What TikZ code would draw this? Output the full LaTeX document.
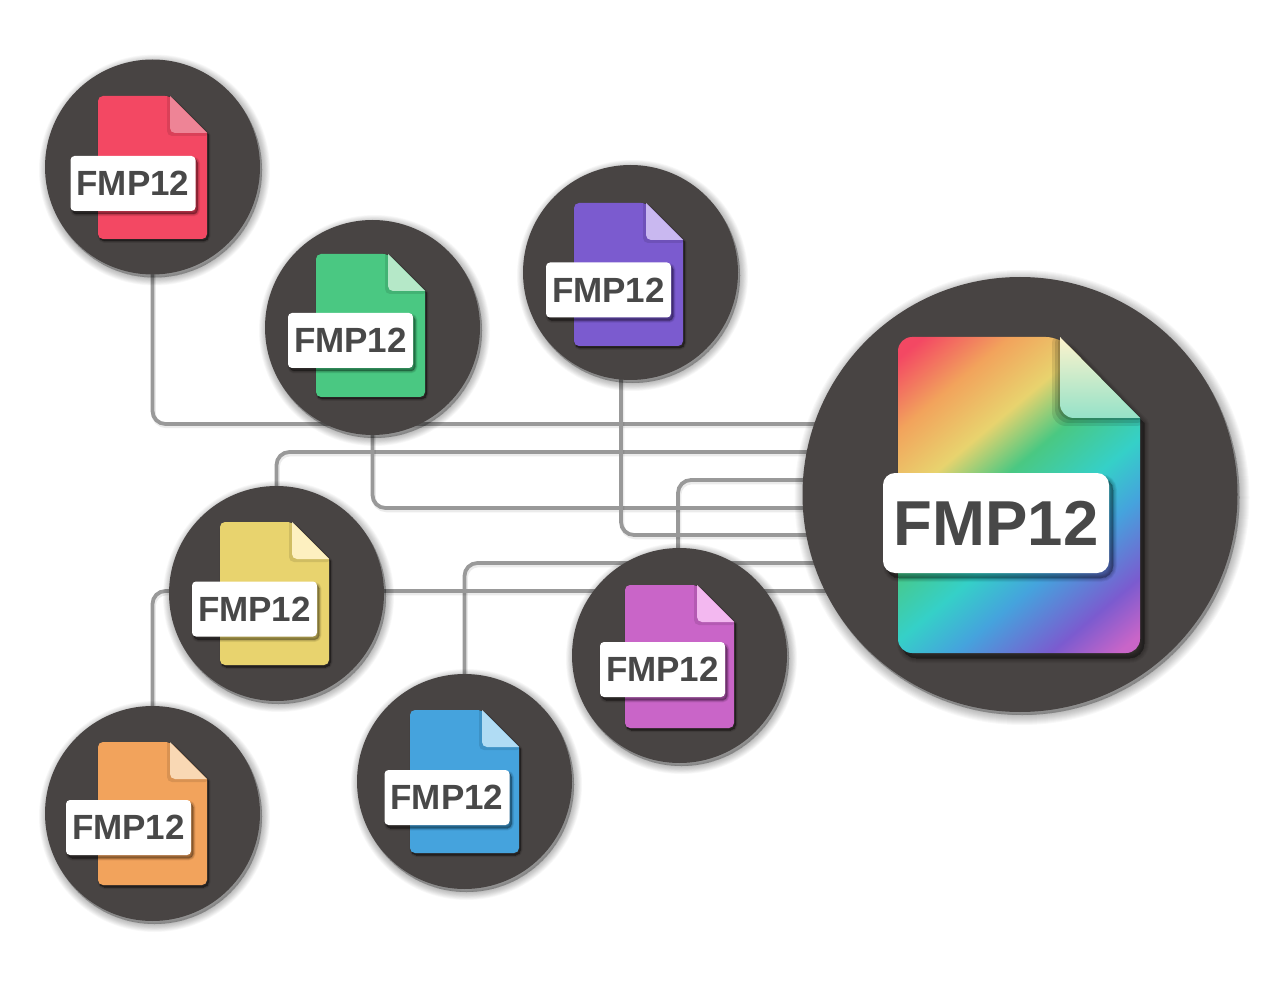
\documentclass[tikz,border=0pt]{standalone}
\usepackage{fontspec}
\setmainfont{Liberation Sans}
\pgfdeclarelayer{lines}
\pgfsetlayers{lines,main}
\definecolor{disc}{HTML}{484443}
\definecolor{wirec}{HTML}{999999}
\definecolor{labeltext}{HTML}{484848}
\definecolor{cred}{HTML}{F34863}\definecolor{fred}{HTML}{EE8496}
\definecolor{cgreen}{HTML}{4AC882}\definecolor{fgreen}{HTML}{B5E8C8}
\definecolor{cpurple}{HTML}{7B5BCF}\definecolor{fpurple}{HTML}{C9B8F0}
\definecolor{cyellow}{HTML}{E8D36E}\definecolor{fyellow}{HTML}{FDF0C0}
\definecolor{cpink}{HTML}{C965C8}\definecolor{fpink}{HTML}{F3B8F0}
\definecolor{cblue}{HTML}{45A3DD}\definecolor{fblue}{HTML}{B0DCF4}
\definecolor{corange}{HTML}{F2A35C}\definecolor{forange}{HTML}{F9D8B4}
\definecolor{cteal}{HTML}{35D0C8}
\pgfdeclarehorizontalshading{rainbowfile}{100bp}{
 color(0bp)=(cred);
 color(27bp)=(cred);
 color(34bp)=(corange);
 color(41bp)=(cyellow);
 color(47bp)=(cgreen);
 color(54.3bp)=(cteal);
 color(60bp)=(cblue);
 color(67.8bp)=(cpurple);
 color(73.3bp)=(cpink);
 color(100bp)=(cpink)}
\tikzset{
 x=1pt,y=-1pt,
 disc node/.style={circle,fill=disc,inner sep=0pt,minimum size=#1},
 label small/.style={rectangle,rounded corners=4pt,fill=white,inner sep=0pt,minimum width=125pt,minimum height=55pt,text=labeltext,font=\fontsize{35}{36}\selectfont\bfseries},
 label big/.style={rectangle,rounded corners=12pt,fill=white,inner sep=0pt,minimum width=226pt,minimum height=100pt,text=labeltext,font=\fontsize{63.5}{66}\selectfont\bfseries},
 wire/.style={draw=wirec,line width=3.8pt,rounded corners=13pt},
 wireshade/.style={draw=black,opacity=.08,line width=4.5pt,rounded corners=13pt,transform canvas={xshift=1pt,yshift=-2pt}},
}
% soft shadow of a closed path
\newcommand{\softshadow}[4]{% dx, dy, max width, path
 \begin{scope}[shift={(#1,#2)}]
 \foreach \w in {1,.9,.8,.7,.6,.5,.4,.3,.2,.1,0}{\pgfmathsetmacro\lw{\w*#3}
  \path[fill=black,draw=black,opacity=.028,line width=\lw pt,line join=round] #4;}
 \end{scope}}
% name, cx, cy, fx, fy, lx, ly, body colour, fold colour
\newcommand{\smallfile}[9]{
 \softshadow{2}{3}{16}{(#2,#3) circle[radius=107.5]}
 \node[disc node=215pt] (#1) at (#2,#3) {};
 \begin{scope}[shift={(#4,#5)}]
  \softshadow{1.5}{2}{4}{[rounded corners=5pt] (0,0) -- (72,0) [sharp corners] -- (109,37) [rounded corners=5pt] -- (109,143) -- (0,143) -- cycle}
  \fill[#8,rounded corners=5pt] (0,0) -- (72,0) [sharp corners] -- (109,37) [rounded corners=5pt] -- (109,143) -- (0,143) -- cycle;
  \begin{scope}
   \clip (72,0) -- (109,37) -- (109,45) -- (60,45) -- (60,0) -- cycle;
   \fill[black,opacity=.10,rounded corners=5pt] (72,-4) -- (69,-4) -- (69,40) -- (112,40) -- cycle;
  \end{scope}
  \fill[#9,rounded corners=5pt] (72,0) -- (72,37) [sharp corners] -- (109,37) -- cycle;
 \end{scope}
 \softshadow{2}{3}{5}{[rounded corners=4pt] (#6-62.5,#7-27.5) rectangle (#6+62.5,#7+27.5)}
 \node[label small] (#1l) at (#6,#7) {FMP12};
}
\newcommand{\wirerun}[2]{
 \draw[wireshade] #1 |- (#2);
 \draw[wire] #1 |- (#2);
}
\begin{document}
\begin{tikzpicture}
\useasboundingbox (0,0) rectangle (1280,981);
\begin{pgfonlayer}{lines}
\fill[white] (0,0) rectangle (1280,981);
\end{pgfonlayer}

\smallfile{red}{152.5}{167}{98}{96}{133}{183.5}{cred}{fred}
\smallfile{green}{372.5}{327.5}{316}{254}{350.5}{340.5}{cgreen}{fgreen}
\smallfile{purple}{630.5}{272.5}{574}{203}{608.5}{290}{cpurple}{fpurple}
\smallfile{yellow}{276.5}{593.5}{220}{522}{254.5}{609}{cyellow}{fyellow}
\smallfile{pink}{679.5}{655.5}{625}{585}{662.5}{669.5}{cpink}{fpink}
\smallfile{blue}{464.5}{781.5}{410}{710}{447}{797.5}{cblue}{fblue}
\smallfile{orange}{152.5}{813.5}{98}{742}{128.5}{827.5}{corange}{forange}

% large disc
\softshadow{2}{3}{20}{(1020,494.5) circle[radius=217.5]}
\node[disc node=435pt] (big) at (1020,494.5) {};
\softshadow{4}{5}{10}{[rounded corners=14pt] (898,337) -- (1060,337) [sharp corners] -- (1140,418) [rounded corners=14pt] -- (1140,653) -- (898,653) -- cycle}
\begin{scope}
 \clip[rounded corners=14pt] (898,337) -- (1060,337) [sharp corners] -- (1140,418) [rounded corners=14pt] -- (1140,653) -- (898,653) -- cycle;
 \shade[shading=rainbowfile,shading angle=-50] (1019-198.8,495-198.8) rectangle (1019+198.8,495+198.8);
 \foreach \w/\o in {8/.10,5/.12,2/.14}{
  \fill[black,opacity=\o,rounded corners=14pt] (1060-\w,330) -- (1060-\w,418+\w) -- (1150,418+\w) -- (1150,330) -- cycle;}
\end{scope}
\begin{scope}
 \clip[rounded corners=14pt] (1060,337) -- (1060,418) [sharp corners] -- (1140,418) -- cycle;
 \shade[top color=fyellow!80!white,bottom color=fgreen!75!cteal] (1055,337) rectangle (1145,418);
\end{scope}
\softshadow{4}{5}{8}{[rounded corners=12pt] (883,473) rectangle (1109,573)}
\node[label big] (bigl) at (996,523) {FMP12};

% connectors, under every disc
\coordinate (e1) at (1020,424);
\coordinate (e2) at (1020,452);
\coordinate (e3) at (1020,480);
\coordinate (e4) at (1020,508);
\coordinate (e5) at (1020,535);
\coordinate (e6) at (1020,563);
\coordinate (e7) at (1020,591);
\begin{pgfonlayer}{lines}
\wirerun{(red.center)}{e1}
\wirerun{(yellow.center)}{e2}
\wirerun{([xshift=-1.5pt]pink.center)}{e3}
\wirerun{(green.center)}{e4}
\wirerun{([xshift=-9.5pt]purple.center)}{e5}
\wirerun{(blue.center)}{e6}
\wirerun{(orange.center)}{e7}
\end{pgfonlayer}
\end{tikzpicture}
\end{document}
